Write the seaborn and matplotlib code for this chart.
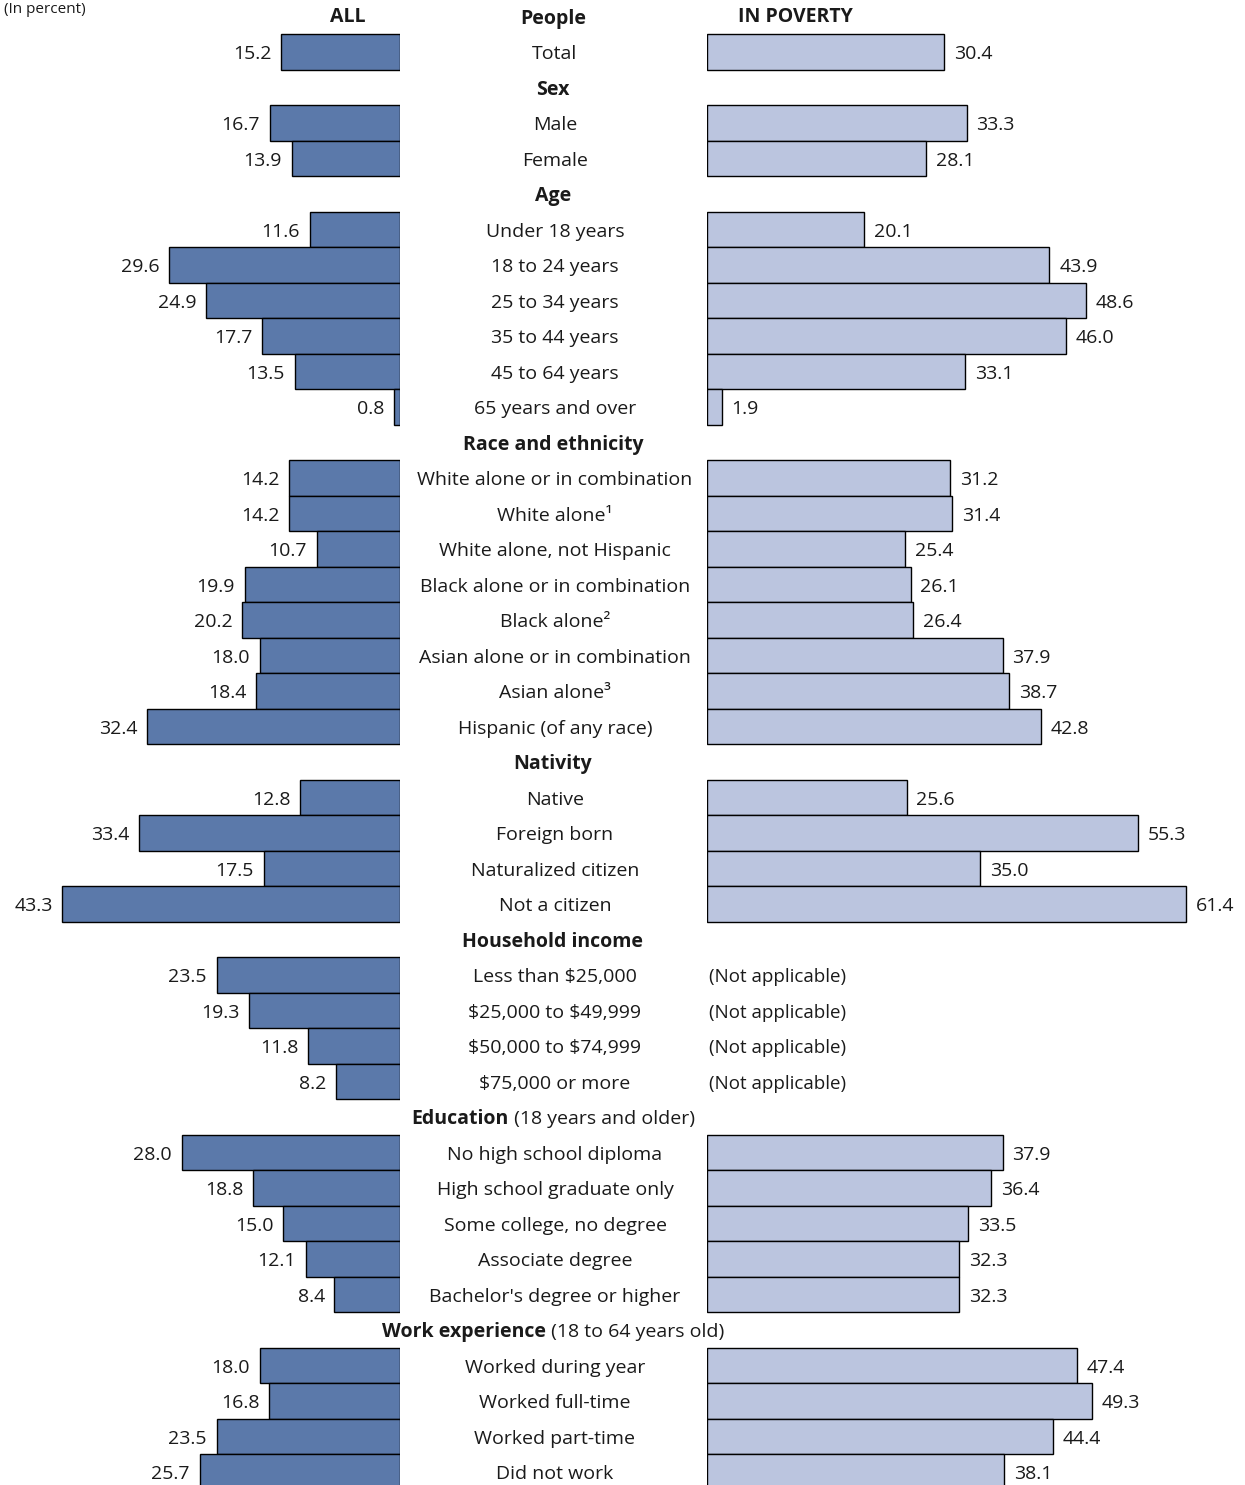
import matplotlib
matplotlib.use("Agg")
import matplotlib.pyplot as plt
import matplotlib.transforms as mtransforms
import numpy as np
import pandas as pd
import seaborn as sns

# -----------------------------
# DATA
# -----------------------------
group_titles = [
    ("People", ""),
    ("Sex", ""),
    ("Age", ""),
    ("Race and ethnicity", ""),
    ("Nativity", ""),
    ("Household income", ""),
    ("Education", " (18 years and older)"),
    ("Work experience", " (18 to 64 years old)"),
]

group_labels = [
    ["Total"],
    ["Male", "Female"],
    ["Under 18 years", "18 to 24 years", "25 to 34 years", "35 to 44 years",
     "45 to 64 years", "65 years and over"],
    ["White alone or in combination", "White alone\u00b9", "White alone, not Hispanic",
     "Black alone or in combination", "Black alone\u00b2", "Asian alone or in combination",
     "Asian alone\u00b3", "Hispanic (of any race)"],
    ["Native", "Foreign born", "Naturalized citizen", "Not a citizen"],
    ["Less than $25,000", "$25,000 to $49,999", "$50,000 to $74,999", "$75,000 or more"],
    ["No high school diploma", "High school graduate only", "Some college, no degree",
     "Associate degree", "Bachelor's degree or higher"],
    ["Worked during year", "Worked full-time", "Worked part-time", "Did not work"],
]

all_pct = [
    [15.2],
    [16.7, 13.9],
    [11.6, 29.6, 24.9, 17.7, 13.5, 0.8],
    [14.2, 14.2, 10.7, 19.9, 20.2, 18.0, 18.4, 32.4],
    [12.8, 33.4, 17.5, 43.3],
    [23.5, 19.3, 11.8, 8.2],
    [28.0, 18.8, 15.0, 12.1, 8.4],
    [18.0, 16.8, 23.5, 25.7],
]

poverty_pct = [
    [30.4],
    [33.3, 28.1],
    [20.1, 43.9, 48.6, 46.0, 33.1, 1.9],
    [31.2, 31.4, 25.4, 26.1, 26.4, 37.9, 38.7, 42.8],
    [25.6, 55.3, 35.0, 61.4],
    [None, None, None, None],
    [37.9, 36.4, 33.5, 32.3, 32.3],
    [47.4, 49.3, 44.4, 38.1],
]

left_color = "#5b79aa"
right_color = "#bbc5df"

# -----------------------------
# BUILD ROWS (headers take one row each)
# -----------------------------
rows = []
row = 0
for g, (title, sub) in enumerate(group_titles):
    rows.append({"row": row, "kind": "header", "label": title, "sub": sub,
                 "all": np.nan, "pov": np.nan})
    row += 1
    for lab, a, p in zip(group_labels[g], all_pct[g], poverty_pct[g]):
        rows.append({"row": row, "kind": "item", "label": lab, "sub": "",
                     "all": a, "pov": np.nan if p is None else p})
        row += 1
df = pd.DataFrame(rows)
items = df[df["kind"] == "item"]

# -----------------------------
# FIGURE
# -----------------------------
sns.set_style("white")
plt.rcParams["font.family"] = ["Open Sans", "DejaVu Sans"]

FS = 14
TXT = "#1a1a1a"
W, H = 1245, 1485
fig = plt.figure(figsize=(W / 100, H / 100), dpi=100)

row_px = 35.5
top_px = 16.5
ylim = ((H - top_px) / row_px, -top_px / row_px)
px_per_unit = 7.8
dy = 0.06  # small downward nudge for text

axL = fig.add_axes([0, 0, 400 / W, 1])
axR = fig.add_axes([707 / W, 0, (W - 707) / W, 1])

sns.barplot(data=items, x="all", y="row", orient="h", native_scale=True,
            color=left_color, saturation=1, edgecolor="black", linewidth=1,
            width=1, errorbar=None, ax=axL)
right_items = items.dropna(subset=["pov"])
sns.barplot(data=right_items, x="pov", y="row", orient="h", native_scale=True,
            color=right_color, saturation=1, edgecolor="black", linewidth=1,
            width=1, errorbar=None, ax=axR)

axL.set_xlim(400 / px_per_unit, 0)
axR.set_xlim(0, (W - 707) / px_per_unit)
for ax in (axL, axR):
    ax.set_ylim(*ylim)
    ax.axis("off")
    for c in ax.containers:
        labels = ax.bar_label(c, fmt="%.1f", padding=7, fontsize=FS, color=TXT)
        for t in labels:
            t.xyann = (t.xyann[0], -1.5)

# not applicable notes
for _, r in items[items["pov"].isna()].iterrows():
    axR.text(0.2, r["row"] + dy, "(Not applicable)", ha="left", va="center",
             fontsize=FS - 0.5, color=TXT, parse_math=False)

# -----------------------------
# CENTER LABELS
# -----------------------------
tr = mtransforms.blended_transform_factory(fig.transFigure, axL.transData)
xc = 555 / W
renderer = fig.canvas.get_renderer()

for _, r in df.iterrows():
    y = r["row"] + dy
    if r["kind"] == "item":
        fig.text(xc, y, r["label"], transform=tr, ha="center", va="center",
                 fontsize=FS, color=TXT, parse_math=False)
    else:
        t1 = fig.text(xc, y, r["label"], transform=tr, ha="left", va="center",
                      fontsize=FS, fontweight="bold", color=TXT)
        w1 = t1.get_window_extent(renderer).width
        if r["sub"]:
            t2 = fig.text(xc, y, r["sub"], transform=tr, ha="left", va="center",
                          fontsize=FS, color=TXT)
            w2 = t2.get_window_extent(renderer).width
            x0 = 553 - (w1 + w2) / 2
            t1.set_x(x0 / W)
            t2.set_x((x0 + w1) / W)
        else:
            t1.set_x((553 - w1 / 2) / W)

# column headers
fig.text(348 / W, 0, "ALL", transform=tr, ha="center", va="center",
         fontsize=FS, fontweight="bold", color=TXT)
fig.text(795 / W, 0, "IN POVERTY", transform=tr, ha="center", va="center",
         fontsize=FS, fontweight="bold", color=TXT)

# unit note at the very top
fig.text(4 / W, 1 - 2 / H, "(In percent)", ha="left", va="top",
         fontsize=11, color=TXT)

fig.savefig("out.png", dpi=100)
